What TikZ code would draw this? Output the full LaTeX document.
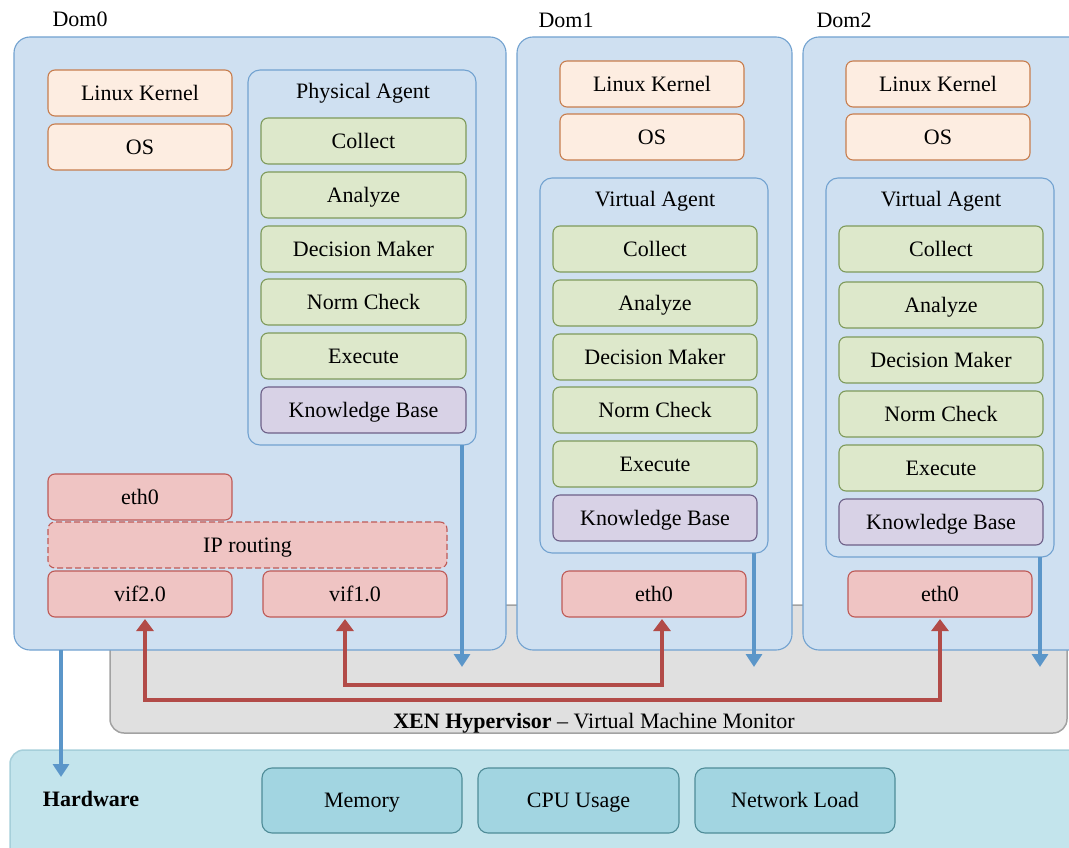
\documentclass[tikz,border=0pt]{standalone}
\usepackage{fontspec}
\setmainfont{Liberation Serif}
\usetikzlibrary{arrows.meta}
\definecolor{domfill}{HTML}{CFE0F1}
\definecolor{domline}{HTML}{72A2D0}
\definecolor{orfill}{HTML}{FDEDE1}
\definecolor{orline}{HTML}{C77D4E}
\definecolor{grfill}{HTML}{DDE8CB}
\definecolor{grline}{HTML}{7E9A5B}
\definecolor{pufill}{HTML}{D8D2E6}
\definecolor{puline}{HTML}{6D6088}
\definecolor{rdfill}{HTML}{EFC4C3}
\definecolor{rdline}{HTML}{BE5A56}
\definecolor{hvfill}{HTML}{E0E0E0}
\definecolor{hvline}{HTML}{A2A2A2}
\definecolor{hwfill}{HTML}{C3E4EC}
\definecolor{hwline}{HTML}{A6CFDA}
\definecolor{cyfill}{HTML}{A2D5E1}
\definecolor{cyline}{HTML}{4F8C98}
\definecolor{arrblue}{HTML}{5B96C9}
\definecolor{arrred}{HTML}{B24B48}
\tikzset{
  base/.style={draw, rounded corners=7pt, line width=1.1pt, inner sep=0pt, outer sep=0pt,
    font=\fontsize{22}{26}\selectfont, text height=14.5pt, text depth=0pt},
  dombox/.style={base, fill=domfill, draw=domline, rounded corners=16pt},
  agentbox/.style={base, fill=domfill, draw=domline, rounded corners=12pt},
  orbox/.style={base, fill=orfill, draw=orline},
  grbox/.style={base, fill=grfill, draw=grline},
  pubox/.style={base, fill=pufill, draw=puline},
  rdbox/.style={base, fill=rdfill, draw=rdline},
  rddash/.style={base, fill=rdfill, draw=rdline, dashed, dash pattern=on 6pt off 3pt},
  hvbox/.style={base, fill=hvfill, draw=hvline, line width=1.5pt, rounded corners=14pt},
  hwbox/.style={base, fill=hwfill, draw=hwline, line width=1.5pt, rounded corners=14pt},
  cybox/.style={base, fill=cyfill, draw=cyline, rounded corners=10pt},
  lbl/.style={inner sep=0pt, font=\fontsize{22}{26}\selectfont, text height=14.5pt, text depth=0pt},
  bluearr/.style={draw=arrblue, line width=4pt, -{Triangle[width=16pt,length=13pt]}},
  redarr/.style={draw=arrred, line width=4.5pt, line join=miter,
    {Triangle[width=17pt,length=12pt]}-{Triangle[width=17pt,length=12pt]}},
}
\newcommand\bx[7]{\node[#2, minimum width={(#5)-(#3)}, minimum height={(#6)-(#4)}] (#1) at ({((#3)+(#5))/2},{((#4)+(#6))/2}) {#7};}
\begin{document}
\begin{tikzpicture}[x=1pt,y=-1pt]
\useasboundingbox (0,0) rectangle (1069,848);
\clip (0,0) rectangle (1069,848);
% hardware
\bx{hw}{hwbox}{10}{750}{1090}{870}{}
\node[lbl, font=\fontsize{22}{26}\selectfont\bfseries] (hwl) at (91,799) {Hardware};
\bx{mem}{cybox}{262}{768}{462}{833}{Memory}
\bx{cpu}{cybox}{478}{768}{679}{833}{CPU Usage}
\bx{net}{cybox}{695}{768}{895}{833}{Network Load}
% hypervisor
\bx{hv}{hvbox}{110}{605}{1067}{733}{}
\node[lbl] (hvl) at (594,721) {\textbf{XEN Hypervisor} -- Virtual Machine Monitor};
% Dom0
\node[lbl] (d0l) at (80,19) {Dom0};
\bx{dom0}{dombox}{14}{37}{506}{650}{}
\bx{lk0}{orbox}{48}{70}{232}{116}{Linux Kernel}
\bx{os0}{orbox}{48}{124}{232}{170}{OS}
\bx{pa}{agentbox}{248}{70}{476}{445}{}
\node[lbl] (pal) at (363,91) {Physical Agent};
\bx{c0}{grbox}{261}{118}{466}{164}{Collect}
\bx{a0}{grbox}{261}{172}{466}{218}{Analyze}
\bx{dm0}{grbox}{261}{226}{466}{272}{Decision Maker}
\bx{nc0}{grbox}{261}{279}{466}{325}{Norm Check}
\bx{ex0}{grbox}{261}{333}{466}{379}{Execute}
\bx{kb0}{pubox}{261}{387}{466}{433}{Knowledge Base}
\bx{eth00}{rdbox}{48}{474}{232}{520}{eth0}
\bx{ipr}{rddash}{48}{522}{447}{568}{IP routing}
\bx{vif20}{rdbox}{48}{571}{232}{617}{vif2.0}
\bx{vif10}{rdbox}{263}{571}{447}{617}{vif1.0}
% Dom1
\node[lbl] (d1l) at (566,20) {Dom1};
\bx{dom1}{dombox}{517}{37}{792}{650}{}
\bx{lk1}{orbox}{560}{61}{744}{107}{Linux Kernel}
\bx{os1}{orbox}{560}{114}{744}{160}{OS}
\bx{va1}{agentbox}{540}{178}{768}{553}{}
\node[lbl] (va1l) at (655,199) {Virtual Agent};
\bx{c1}{grbox}{553}{226}{757}{272}{Collect}
\bx{a1}{grbox}{553}{280}{757}{326}{Analyze}
\bx{dm1}{grbox}{553}{334}{757}{380}{Decision Maker}
\bx{nc1}{grbox}{553}{387}{757}{433}{Norm Check}
\bx{ex1}{grbox}{553}{441}{757}{487}{Execute}
\bx{kb1}{pubox}{553}{495}{757}{541}{Knowledge Base}
\bx{eth1}{rdbox}{562}{571}{746}{617}{eth0}
% Dom2
\node[lbl] (d2l) at (844,20) {Dom2};
\bx{dom2}{dombox}{803}{37}{1090}{650}{}
\bx{lk2}{orbox}{846}{61}{1030}{107}{Linux Kernel}
\bx{os2}{orbox}{846}{114}{1030}{160}{OS}
\bx{va2}{agentbox}{826}{178}{1054}{557}{}
\node[lbl] (va2l) at (941,199) {Virtual Agent};
\bx{c2}{grbox}{839}{226}{1043}{272}{Collect}
\bx{a2}{grbox}{839}{282}{1043}{328}{Analyze}
\bx{dm2}{grbox}{839}{337}{1043}{383}{Decision Maker}
\bx{nc2}{grbox}{839}{391}{1043}{437}{Norm Check}
\bx{ex2}{grbox}{839}{445}{1043}{491}{Execute}
\bx{kb2}{pubox}{839}{499}{1043}{545}{Knowledge Base}
\bx{eth2}{rdbox}{848}{571}{1032}{617}{eth0}
% blue arrows
\coordinate (b0) at (462,667);
\coordinate (b1) at (754,667);
\coordinate (b2) at (1040,667);
\coordinate (b3) at (61,777);
\draw[bluearr] (pa.south -| b0) -- (b0);
\draw[bluearr] (va1.south -| b1) -- (b1);
\draw[bluearr] (va2.south -| b2) -- (b2);
\draw[bluearr] (dom0.south -| b3) -- (b3);
% red arrows
\coordinate (r1) at (145,700);
\coordinate (r2) at (940,700);
\coordinate (r3) at (345,685);
\coordinate (r4) at (662,685);
\draw[redarr, shorten <=2pt, shorten >=2pt] (vif20.south -| r1) -- (r1) -- (r2) -- (eth2.south -| r2);
\draw[redarr, shorten <=2pt, shorten >=2pt] (vif10.south -| r3) -- (r3) -- (r4) -- (eth1.south -| r4);
\end{tikzpicture}
\end{document}
